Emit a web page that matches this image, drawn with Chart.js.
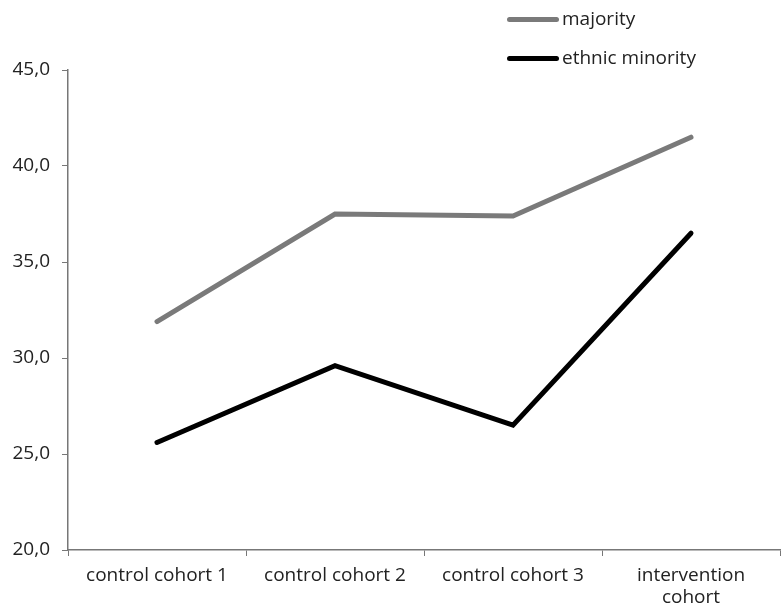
<!DOCTYPE html>
<html>
<head>
<meta charset="utf-8">
<script src="https://cdn.jsdelivr.net/npm/chart.js@4/dist/chart.umd.min.js"></script>
<style>
  body { margin: 0; background: #fff; }
  #wrap { position: relative; width: 781px; height: 608px; }
  #legend { position: absolute; left: 507px; top: 3px; font-family: "Open Sans", sans-serif; font-size: 19px; color: #222; }
  #legend div { height: 39px; line-height: 30px; white-space: nowrap; }
  #legend span { display: inline-block; width: 52px; height: 5px; border-radius: 3px; vertical-align: middle; margin-right: 3px; }
</style>
</head>
<body>
<div id="wrap">
  <canvas id="line-chart" width="781" height="608"></canvas>
  <div id="legend"></div>
</div>
<script>
// 그래프 데이터
let cohorts = ['control cohort 1', 'control cohort 2', 'control cohort 3', ['intervention', 'cohort']];
let majority = [31.9, 37.5, 37.4, 41.5];
let minority = [25.6, 29.6, 26.5, 36.5];
let seriesNames = ['majority', 'ethnic minority'];
let seriesColors = ['#7a7a7a', '#000000'];
let yTicks = [20, 25, 30, 35, 40, 45];

let font = { family: '"Open Sans", sans-serif', size: 19, lineHeight: 1.15 };

let myLineChart = new Chart(document.getElementById('line-chart').getContext('2d'), {
    type: 'line',
    data: {
        labels: cohorts,
        datasets: [
            {
                label: seriesNames[0],
                data: majority,
                borderColor: seriesColors[0],
                borderWidth: 5,
                pointRadius: 0,
                borderCapStyle: 'round',
                tension: 0
            },
            {
                label: seriesNames[1],
                data: minority,
                borderColor: seriesColors[1],
                borderWidth: 5,
                pointRadius: 0,
                borderCapStyle: 'round',
                tension: 0
            }
        ]
    },
    options: {
        responsive: false,
        animation: false,
        layout: { padding: { top: 70, right: 1, left: 0, bottom: 0 } },
        plugins: {
            legend: { display: false },
            tooltip: { enabled: false }
        },
        scales: {
            x: {
                offset: true,
                grid: { drawOnChartArea: false, drawTicks: true, tickLength: 6, color: '#777', offset: true },
                border: { color: '#777', width: 1.5 },
                ticks: { color: '#222', font: font, padding: 9, maxRotation: 0, autoSkip: false },
                afterFit: function(scale) { scale.height = 58; }
            },
            y: {
                min: 20,
                max: 45,
                afterBuildTicks: function(scale) { scale.ticks = yTicks.map(v => ({ value: v })); },
                grid: { drawOnChartArea: false, drawTicks: true, tickLength: 6, color: '#777' },
                border: { color: '#777', width: 1.5 },
                ticks: {
                    color: '#222', font: font, padding: 12,
                    callback: v => v.toFixed(1).replace('.', ',')
                },
                afterFit: function(scale) { scale.width = 68; }
            }
        }
    }
});

// 범례 만들기
let legendHtml = '';
myLineChart.data.datasets.forEach(ds => {
    legendHtml += '<div><span style="background:' + ds.borderColor + '"></span>' + ds.label + '</div>';
});
document.getElementById('legend').innerHTML = legendHtml;
</script>
</body>
</html>
